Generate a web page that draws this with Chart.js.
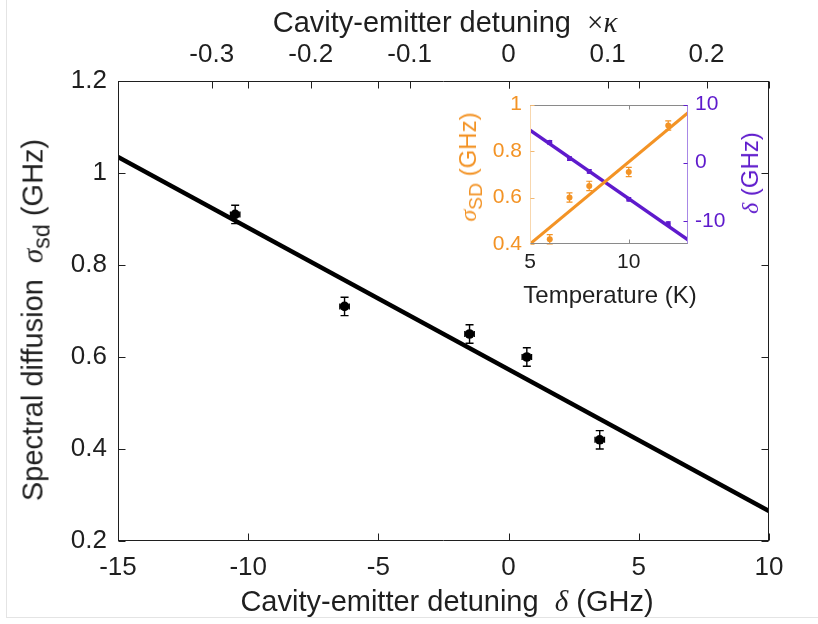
<!DOCTYPE html>
<html>
<head>
<meta charset="utf-8">
<script src="https://cdn.jsdelivr.net/npm/chart.js@4.4.1/dist/chart.umd.min.js"></script>
<style>
body{margin:0;background:#fff;}
#wrap{position:relative;width:818px;height:624px;overflow:hidden;background:#fff;
  font-family:"Liberation Sans",Arial,Helvetica,sans-serif;color:#1f1f1f;}
#main{position:absolute;left:0;top:0;}
#inset{position:absolute;left:430px;top:84px;}
.frame-l{position:absolute;left:6px;top:0;height:617px;border-left:1px solid #e4e4e4;}
.frame-b{position:absolute;left:6px;top:617px;width:812px;border-top:1px solid #e4e4e4;}
.t{position:absolute;white-space:nowrap;line-height:1;font-size:29px;}
.serif{font-family:"Liberation Serif","Times New Roman",serif;}
.sub{font-size:0.8em;position:relative;top:0.32em;}
.orange{color:#F39325;}
.purple{color:#5E1ACC;}
</style>
</head>
<body>
<div id="wrap">
  <div class="frame-l"></div><div class="frame-b"></div>
  <canvas id="main" width="818" height="624"></canvas>
  <canvas id="inset" width="340" height="230"></canvas>

  <div class="t" style="left:445px;top:8px;transform:translateX(-50%);">Cavity-emitter detuning&nbsp;&nbsp;<span class="serif">×<i>κ</i></span></div>
  <div class="t" style="left:447px;top:587px;transform:translateX(-50%);">Cavity-emitter detuning&nbsp;&nbsp;<i class="serif">δ</i> (GHz)</div>
  <div class="t" style="left:33px;top:320px;transform:translate(-50%,-50%) rotate(-90deg);">Spectral diffusion&nbsp;&nbsp;<i class="serif">σ</i><span class="sub">sd</span> (GHz)</div>

  <div class="t" style="left:610px;top:283px;font-size:24px;transform:translateX(-50%);">Temperature (K)</div>
  <div class="t orange" style="left:468px;top:167px;font-size:24px;transform:translate(-50%,-50%) rotate(-90deg);"><i class="serif">σ</i><span class="sub">SD</span> (GHz)</div>
  <div class="t purple" style="left:750px;top:173px;font-size:24px;transform:translate(-50%,-50%) rotate(-90deg);"><i class="serif">δ</i> (GHz)</div>
</div>

<script>
// measured points (same five spectra in main plot and inset)
const temps = [6, 7, 8, 10, 12];                  // K
const detuning = [3.5, 0.7, -1.5, -6.3, -10.5];   // GHz
const sigma = [0.42, 0.60, 0.65, 0.71, 0.91];     // GHz
const sigmaErr = [0.02, 0.02, 0.02, 0.02, 0.02];
const detuningErr = [0.18, 0.18, 0.18, 0.18, 0.18];
const detuningErrInset = [0.3, 0.3, 0.3, 0.3, 0.3];

// linear fits (end points)
const fitDetX = [-15, 10];
const fitDetSigma = [1.035, 0.265];
const fitT = [5, 13];
const fitTSigma = [0.40, 0.965];
const fitTDet = [5.6, -13.3];

// axes
const KAPPA = 38; // GHz
const xTicks = [-15, -10, -5, 0, 5, 10];
const yTicks = [0.2, 0.4, 0.6, 0.8, 1, 1.2];
const kappaTicks = [-0.3, -0.2, -0.1, 0, 0.1, 0.2];
const insetTTicks = [5, 10];
const insetSigmaTicks = [0.4, 0.6, 0.8, 1];
const insetDetTicks = [-10, 0, 10];

const FONT = '"Liberation Sans", Arial, Helvetica, sans-serif';
const INK = '#1f1f1f';
const ORANGE = '#F39325';
const PURPLE = '#5E1ACC';

const pts = (xs, ys) => xs.map((x, i) => ({x: x, y: ys[i]}));
const fixTicks = vals => s => { s.ticks = vals.map(v => ({value: v})); };

// error bars with caps, drawn through the scales
const errorBars = {
    id: 'errorBars',
    beforeDatasetsDraw(chart, args, o){
        const ctx = chart.ctx;
        (o.sets || []).forEach(e => {
            const xs = chart.scales[e.xAxis], ys = chart.scales[e.yAxis];
            ctx.save();
            ctx.strokeStyle = e.color;
            ctx.lineWidth = e.width;
            e.x.forEach((xv, i) => {
                const px = xs.getPixelForValue(xv), py = ys.getPixelForValue(e.y[i]);
                if(e.yErr){
                    const t = ys.getPixelForValue(e.y[i] + e.yErr[i]);
                    const b = ys.getPixelForValue(e.y[i] - e.yErr[i]);
                    ctx.beginPath();
                    ctx.moveTo(px, t); ctx.lineTo(px, b);
                    ctx.moveTo(px - e.cap, t); ctx.lineTo(px + e.cap, t);
                    ctx.moveTo(px - e.cap, b); ctx.lineTo(px + e.cap, b);
                    ctx.stroke();
                }
                if(e.xErr){
                    const l = xs.getPixelForValue(xv - e.xErr[i]);
                    const r = xs.getPixelForValue(xv + e.xErr[i]);
                    ctx.beginPath();
                    ctx.moveTo(l, py); ctx.lineTo(r, py);
                    ctx.moveTo(l, py - e.capX); ctx.lineTo(l, py + e.capX);
                    ctx.moveTo(r, py - e.capX); ctx.lineTo(r, py + e.capX);
                    ctx.stroke();
                }
            });
            ctx.restore();
        });
    }
};

// matlab-like box with inward ticks
const axesFrame = {
    id: 'axesFrame',
    beforeDraw(chart, args, o){
        if(!o.fill) return;
        const a = chart.chartArea;
        chart.ctx.save();
        chart.ctx.fillStyle = o.fill;
        chart.ctx.fillRect(a.left, a.top, a.right - a.left, a.bottom - a.top);
        chart.ctx.restore();
    },
    afterDraw(chart, args, o){
        const ctx = chart.ctx, a = chart.chartArea;
        const L = Math.round(a.left) + 0.5, R = Math.round(a.right) - 0.5;
        const T = Math.round(a.top) + 0.5, B = Math.round(a.bottom) - 0.5;
        ctx.save();
        (o.edges || []).forEach(e => {
            ctx.strokeStyle = e.color;
            ctx.lineWidth = 1;
            ctx.beginPath();
            if(e.side === 'bottom'){ ctx.moveTo(L - 0.5, B); ctx.lineTo(R + 0.5, B); }
            if(e.side === 'top'){ ctx.moveTo(L - 0.5, T); ctx.lineTo(R + 0.5, T); }
            if(e.side === 'left'){ ctx.moveTo(L, T); ctx.lineTo(L, B); }
            if(e.side === 'right'){ ctx.moveTo(R, T); ctx.lineTo(R, B); }
            ctx.stroke();
            ctx.strokeStyle = e.tickColor || e.color;
            ctx.beginPath();
            (e.marks || []).forEach(m => {
                const sc = chart.scales[m.scale];
                m.values.forEach(v => {
                    const p = Math.round(sc.getPixelForValue(v)) + 0.5;
                    if(e.side === 'bottom'){ ctx.moveTo(p, B); ctx.lineTo(p, B - o.len); }
                    if(e.side === 'top'){ ctx.moveTo(p, T); ctx.lineTo(p, T + o.len); }
                    if(e.side === 'left'){ ctx.moveTo(L, p); ctx.lineTo(L + o.len, p); }
                    if(e.side === 'right'){ ctx.moveTo(R, p); ctx.lineTo(R - o.len, p); }
                });
            });
            ctx.stroke();
        });
        ctx.restore();
    }
};

function axis(extra){
    return Object.assign({
        type: 'linear',
        grid: {display: false, drawTicks: false},
        border: {display: false},
    }, extra);
}
function tickOpts(size, color, padding){
    return {autoSkip: false, maxRotation: 0, padding: padding, color: color,
            font: {family: FONT, size: size}, callback: v => String(v)};
}

// MAIN PLOT
new Chart(document.getElementById('main'), {
    type: 'scatter',
    data: {
        datasets: [
            {type: 'line', data: pts(fitDetX, fitDetSigma), xAxisID: 'x', yAxisID: 'y',
             borderColor: '#000', borderWidth: 4.5, pointRadius: 0, order: 2},
            {data: pts(detuning, sigma), xAxisID: 'x', yAxisID: 'y',
             backgroundColor: '#000', borderColor: '#000', pointRadius: 4.8, borderWidth: 0, order: 1}
        ]
    },
    options: {
        responsive: false,
        animation: false,
        layout: {padding: {left: 0, right: 49, top: 0, bottom: 0}},
        plugins: {
            legend: {display: false},
            tooltip: {enabled: false},
            errorBars: {sets: [{xAxis: 'x', yAxis: 'y', x: detuning, y: sigma,
                                yErr: sigmaErr, xErr: detuningErr,
                                color: '#000', width: 1.4, cap: 4, capX: 3}]},
            axesFrame: {len: 7, edges: [
                {side: 'bottom', color: INK, marks: [{scale: 'x', values: xTicks}]},
                {side: 'top', color: INK, marks: [{scale: 'x', values: xTicks}, {scale: 'x2', values: kappaTicks}]},
                {side: 'left', color: INK, marks: [{scale: 'y', values: yTicks}]},
                {side: 'right', color: INK, marks: [{scale: 'y', values: yTicks}]}
            ]}
        },
        scales: {
            x: axis({position: 'bottom', min: -15, max: 10,
                     afterBuildTicks: fixTicks(xTicks), afterFit: s => { s.height = 83; },
                     ticks: tickOpts(26, INK, 11)}),
            x2: axis({position: 'top', min: -15 / KAPPA, max: 10 / KAPPA,
                      afterBuildTicks: fixTicks(kappaTicks), afterFit: s => { s.height = 81; },
                      ticks: tickOpts(26, INK, 11)}),
            y: axis({position: 'left', min: 0.2, max: 1.2,
                     afterBuildTicks: fixTicks(yTicks), afterFit: s => { s.width = 118; },
                     ticks: tickOpts(26, INK, 11)})
        }
    },
    plugins: [errorBars, axesFrame]
});

// INSET
new Chart(document.getElementById('inset'), {
    type: 'scatter',
    data: {
        datasets: [
            {type: 'line', data: pts(fitT, fitTSigma), xAxisID: 'x', yAxisID: 'yL',
             borderColor: ORANGE, borderWidth: 3, pointRadius: 0, order: 3},
            {type: 'line', data: pts(fitT, fitTDet), xAxisID: 'x', yAxisID: 'yR',
             borderColor: PURPLE, borderWidth: 3.5, pointRadius: 0, order: 4},
            {data: pts(temps, sigma), xAxisID: 'x', yAxisID: 'yL',
             backgroundColor: ORANGE, borderColor: ORANGE, pointRadius: 3, borderWidth: 0, order: 1},
            {data: pts(temps, detuning), xAxisID: 'x', yAxisID: 'yR',
             backgroundColor: PURPLE, borderColor: PURPLE, pointRadius: 2.5, borderWidth: 0, order: 2}
        ]
    },
    options: {
        responsive: false,
        animation: false,
        layout: {padding: {left: 0, right: 0, top: 20, bottom: 0}},
        plugins: {
            legend: {display: false},
            tooltip: {enabled: false},
            errorBars: {sets: [
                {xAxis: 'x', yAxis: 'yL', x: temps, y: sigma, yErr: sigmaErr,
                 color: ORANGE, width: 1.2, cap: 3},
                {xAxis: 'x', yAxis: 'yR', x: temps, y: detuning, yErr: detuningErrInset,
                 color: PURPLE, width: 1.2, cap: 2.5}
            ]},
            axesFrame: {len: 4, fill: '#fff', edges: [
                {side: 'bottom', color: '#8a8a8a', marks: [{scale: 'x', values: insetTTicks}]},
                {side: 'top', color: '#8a8a8a', marks: [{scale: 'x', values: insetTTicks}]},
                {side: 'left', color: '#F8D7AE', tickColor: '#F3B870', marks: [{scale: 'yL', values: insetSigmaTicks}]},
                {side: 'right', color: '#A888E6', tickColor: PURPLE, marks: [{scale: 'yR', values: insetDetTicks}]}
            ]}
        },
        scales: {
            x: axis({position: 'bottom', min: 5, max: 13,
                     afterBuildTicks: fixTicks(insetTTicks), afterFit: s => { s.height = 70; },
                     ticks: tickOpts(21, INK, 6)}),
            yL: axis({position: 'left', min: 0.4, max: 1,
                      afterBuildTicks: fixTicks(insetSigmaTicks), afterFit: s => { s.width = 100; },
                      ticks: tickOpts(21, ORANGE, 8)}),
            yR: axis({position: 'right', min: -14, max: 10,
                      afterBuildTicks: fixTicks(insetDetTicks), afterFit: s => { s.width = 82; },
                      ticks: tickOpts(21, PURPLE, 7)})
        }
    },
    plugins: [errorBars, axesFrame]
});
</script>
</body>
</html>
